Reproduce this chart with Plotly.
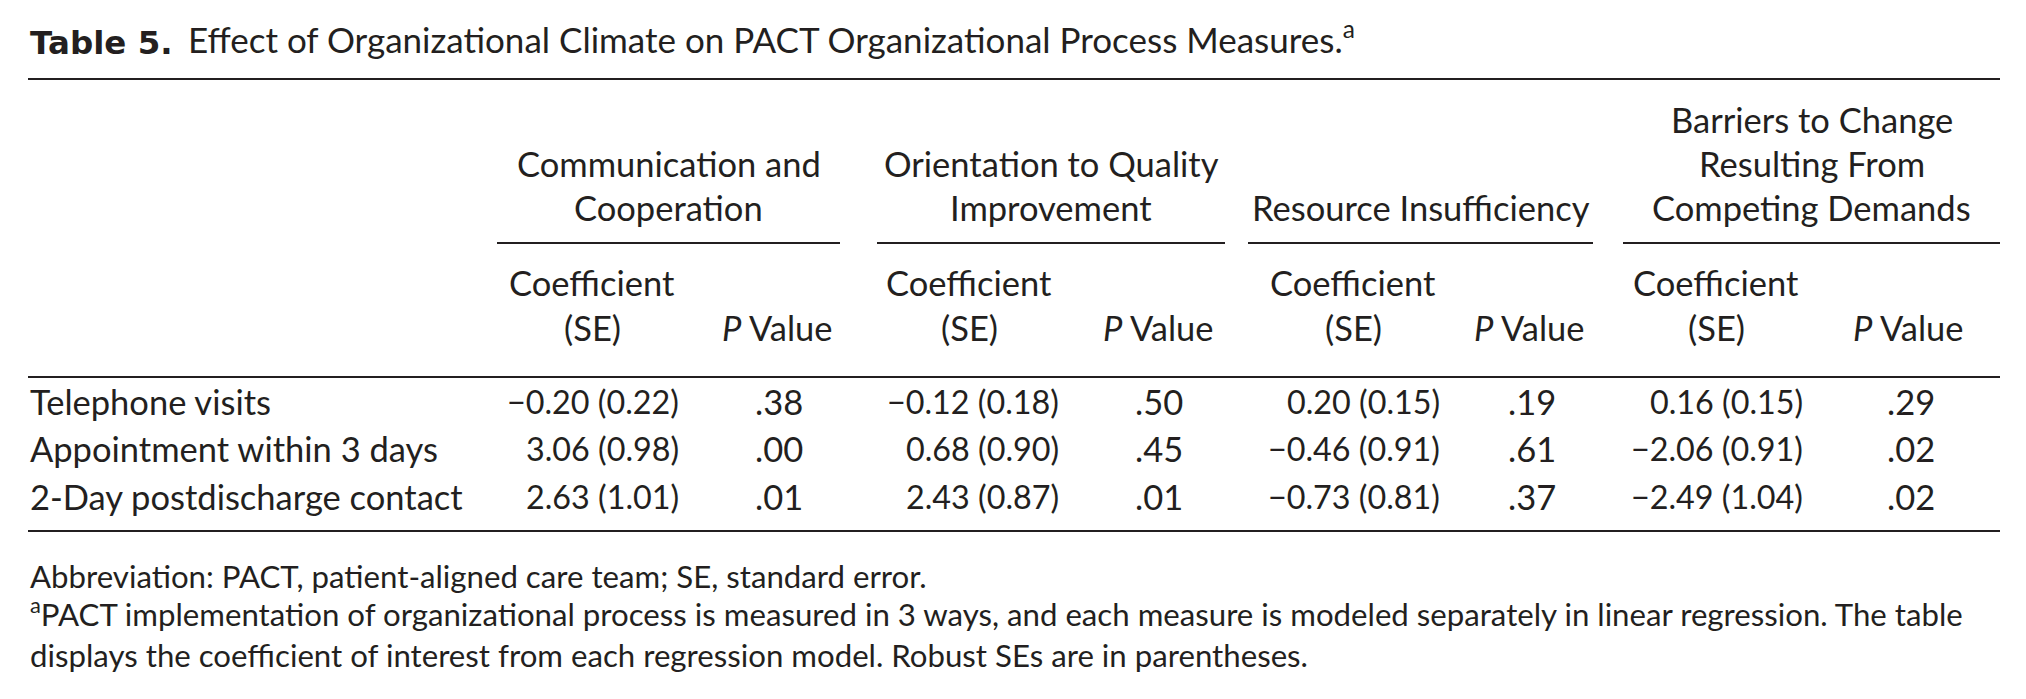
import plotly.graph_objects as go

W, H = 2026, 699
PAD = 8  # default body margin of the html page
FONT = "Lato"
INK = "#231f20"
SIZE = 34.5
NUM_SIZE = 32.3
NOTE_SIZE = 31.2
TITLE_SIZE = 35

# ---------------------------------------
# Data
# ---------------------------------------

title_bold = "Table 5."
title_text = "Effect of Organizational Climate on PACT Organizational Process Measures."

group_lines = [
    ["Communication and", "Cooperation"],
    ["Orientation to Quality", "Improvement"],
    ["Resource Insufficiency"],
    ["Barriers to Change", "Resulting From", "Competing Demands"],
]

row_labels = [
    "Telephone visits",
    "Appointment within 3 days",
    "2-Day postdischarge contact",
]

coef = [
    [-0.20, 3.06, 2.63],
    [-0.12, 0.68, 2.43],
    [0.20, -0.46, -0.73],
    [0.16, -2.06, -2.49],
]

se = [
    [0.22, 0.98, 1.01],
    [0.18, 0.90, 0.87],
    [0.15, 0.91, 0.81],
    [0.15, 0.91, 1.04],
]

pvals = [
    [".38", ".00", ".01"],
    [".50", ".45", ".01"],
    [".19", ".61", ".37"],
    [".29", ".02", ".02"],
]

footnotes = [
    "Abbreviation: PACT, patient-aligned care team; SE, standard error.",
    "<sup>a</sup>PACT implementation of organizational process is measured in 3 ways, "
    "and each measure is modeled separately in linear regression. The table",
    "displays the coefficient of interest from each regression model. "
    "Robust SEs are in parentheses.",
]

# ---------------------------------------
# Layout positions (page pixels)
# ---------------------------------------

left = 28
right = 2000
title_text_x = 186

group_span = [(497, 840), (877, 1225), (1248, 1593), (1623, 2000)]
coef_center = [592, 969, 1353, 1716]
coef_right = [681, 1061, 1442, 1805]
p_head_right = [835, 1216, 1587, 1966]
p_center = [779, 1159, 1532, 1911]

head_line_y = [119, 163, 207]
row_y = [401, 448, 496]
foot_y = [576, 612, 655]


def fmt(v):

    s = f"{abs(v):.2f}"

    return ("\u2212" + s) if v < 0 else s


fig = go.Figure()

annotations = []


def text(x, y, s, anchor="left", size=SIZE, family=FONT):

    annotations.append(

        dict(
            x=x,
            y=y,
            xref="x",
            yref="y",
            text=s,
            showarrow=False,
            xanchor=anchor,
            yanchor="middle",
            font=dict(family=family, size=size, color=INK),
        )

    )


# =======================================
# Title
# =======================================

text(left, 43, f"<b>{title_bold}</b>", size=32.5, family="DejaVu Sans")

text(title_text_x, 37, f"{title_text}<sup>a</sup>", size=TITLE_SIZE)

# =======================================
# Group headers (bottom aligned)
# =======================================

for g, lines in enumerate(group_lines):

    center = (group_span[g][0] + group_span[g][1]) / 2

    for k, line in enumerate(lines):

        y = head_line_y[len(head_line_y) - len(lines) + k]

        text(center, y, line, "center")

for g in range(4):

    text(coef_center[g], 282, "Coefficient", "center")

    text(coef_center[g], 327, "(SE)", "center")

    text(p_head_right[g], 327, "<i>P</i> Value", "right")

# =======================================
# Body rows
# =======================================

for r, label in enumerate(row_labels):

    text(left, row_y[r], label)

    for g in range(4):

        text(coef_right[g], row_y[r], f"{fmt(coef[g][r])} ({se[g][r]:.2f})", "right", NUM_SIZE)

        text(p_center[g], row_y[r], pvals[g][r], "center")

# =======================================
# Footnotes
# =======================================

for i, note in enumerate(footnotes):

    text(left, foot_y[i], note, size=NOTE_SIZE)

# =======================================
# Rules
# =======================================

shapes = []

for y in (79, 377, 531):

    shapes.append(

        dict(type="line", xref="x", yref="y", x0=left, x1=right, y0=y, y1=y,
             line=dict(color=INK, width=2))

    )

for x0, x1 in group_span:

    shapes.append(

        dict(type="line", xref="x", yref="y", x0=x0, x1=x1, y0=243, y1=243,
             line=dict(color=INK, width=2))

    )

fig.update_layout(

    width=W - 2 * PAD,

    height=H - 2 * PAD,

    margin=dict(l=0, r=0, t=0, b=0),

    paper_bgcolor="white",

    plot_bgcolor="white",

    annotations=annotations,

    shapes=shapes,

    showlegend=False,

)

fig.update_xaxes(range=[PAD, W - PAD], visible=False)

fig.update_yaxes(range=[H - PAD, PAD], visible=False)

fig.write_html("out.html")
